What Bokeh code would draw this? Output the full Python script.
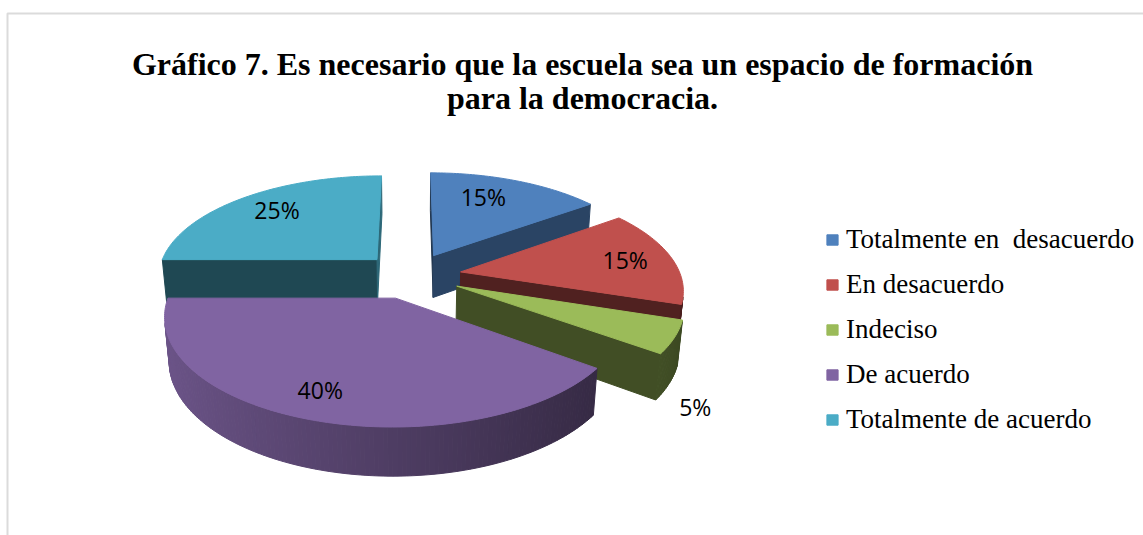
import numpy as np
from bokeh.plotting import figure
from bokeh.models import Range1d, Legend, LegendItem, Label, ColumnDataSource, BoxAnnotation
from bokeh.core.properties import value
from bokeh.embed import file_html
from bokeh.resources import INLINE

# ---------------- data ----------------
categories = ["Totalmente en  desacuerdo", "En desacuerdo", "Indeciso",
              "De acuerdo", "Totalmente de acuerdo"]
percentages = [15, 15, 5, 40, 25]
pct_labels = ["15%", "15%", "5%", "40%", "25%"]
colors = ["#4F81BD", "#C0504D", "#9BBB59", "#8064A2", "#4BACC6"]
title_lines = ["Gráfico 7. Es necesario que la escuela sea un espacio de formación",
               "para la democracia."]

# ---------------- layout / style ----------------
W, H = 1143, 535
CXd, CYd = 411.0, 260.0          # top-face centre (screen/data units)
R = 220.0                        # pie radius
EXPL = 50.0                      # explosion distance
DEPTH = 49.0                     # pie thickness
SINPHI = 0.46                    # elevation of view
DIST = 1266.0                    # perspective distance
label_frac = [0.73, 0.78, 1.12, 0.80, 0.76]
label_shift = [-5.5, 0.0, 0.0, 2.7, 2.0]
label_drop = [0.0, 0.0, 1.4, 0.0, 0.0]

COSPHI = np.sqrt(1 - SINPHI ** 2)
CAM = np.array([0.0, -DIST * COSPHI, DIST * SINPHI])


def proj(P):
    X, Y, Z = P
    d = DIST + Y * COSPHI - Z * SINPHI
    s = DIST / d
    return CXd + X * s, CYd + (Y * SINPHI + Z * COSPHI) * s


def unit(t):
    return np.array([np.sin(t), np.cos(t), 0.0])


def shade(hexcol, f):
    r, g, b = (int(hexcol[i:i + 2], 16) for i in (1, 3, 5))
    return "#%02x%02x%02x" % (int(min(255, r * f)), int(min(255, g * f)), int(min(255, b * f)))


def poly(points):
    xy = [proj(q) for q in points]
    return [a for a, _ in xy], [b for _, b in xy]


p = figure(width=W, height=H, x_range=Range1d(0, W), y_range=Range1d(0, H),
           x_axis_type=None, y_axis_type=None, output_backend="svg",
           toolbar_location=None, min_border=0, outline_line_color=None)
p.background_fill_color = "white"
p.border_fill_color = "white"

# chart-area frame (only left and top edges visible in the window)
p.add_layout(BoxAnnotation(left=7, right=W + 20, bottom=-20, top=H - 13,
                           fill_alpha=0, line_color="#898989", line_width=2))

total = float(sum(percentages))
cum = np.concatenate([[0.0], np.cumsum(percentages)]) / total * 2 * np.pi
down = np.array([0.0, 0.0, -DEPTH])

order = sorted(range(len(percentages)), key=lambda i: -np.cos((cum[i] + cum[i + 1]) / 2))
top_renderers = {}

for i in order:
    ts, te = cum[i], cum[i + 1]
    tm = (ts + te) / 2
    O = EXPL * unit(tm)
    n = max(3, int(np.degrees(te - ts)))
    thetas = np.linspace(ts, te, n + 1)
    arc = [O + R * unit(t) for t in thetas]

    side_xs, side_ys, side_c = [], [], []
    # radial faces
    for t, sgn in ((ts, -1), (te, 1)):
        nrm = sgn * np.array([np.cos(t), -np.sin(t), 0.0])
        A = O + R * unit(t)
        if np.dot(nrm, CAM - O) > 0:
            xs, ys = poly([O, A, A + down, O + down])
            side_xs.append(xs); side_ys.append(ys)
            side_c.append(shade(colors[i], 0.42 + 0.19 * max(nrm[0], 0)))
    # curved outer face, in strips
    for k in range(len(thetas) - 1):
        ta, tb = thetas[k], thetas[k + 1]
        tmid = (ta + tb) / 2
        Pm = O + R * unit(tmid)
        if np.dot(unit(tmid), CAM - Pm) > 0:
            A, B = arc[k], arc[k + 1]
            xs, ys = poly([A, B, B + down, A + down])
            side_xs.append(xs); side_ys.append(ys)
            side_c.append(shade(colors[i], 0.615 - 0.235 * np.sin(tmid)))
    if side_xs:
        src = ColumnDataSource(dict(xs=side_xs, ys=side_ys, c=side_c))
        p.patches("xs", "ys", source=src, fill_color="c", line_color="c", line_width=1)

    txs, tys = poly([O] + arc)
    top_renderers[i] = p.patches([txs], [tys], fill_color=colors[i],
                                 line_color=colors[i], line_width=1)

# percentage labels
lx, ly = [], []
for i in range(len(percentages)):
    tm = (cum[i] + cum[i + 1]) / 2
    O = EXPL * unit(tm)
    P = O + label_frac[i] * R * unit(tm + np.radians(label_shift[i])) + label_drop[i] * down
    x, y = proj(P)
    lx.append(x); ly.append(y)
p.text(x=lx, y=ly, text=pct_labels, text_align="center", text_baseline="middle",
       text_font=value("Open Sans"), text_font_size="23px", text_color="#000000")

# title
for j, line in enumerate(title_lines):
    p.add_layout(Label(x=582, y=H - 63 - 34 * j, text=line, text_align="center",
                       text_baseline="alphabetic", text_font="Liberation Serif",
                       text_font_style="bold", text_font_size="32px", text_color="#000000"))

# legend
items = [LegendItem(label=categories[i], renderers=[top_renderers[i]]) for i in range(len(categories))]
legend = Legend(items=items, location=(825, 100.5), orientation="vertical",
                label_text_font="Liberation Serif", label_text_font_size="27px",
                label_text_color="#000000", glyph_width=14, glyph_height=13,
                label_standoff=7, spacing=14, padding=0, margin=0, label_height=30,
                border_line_alpha=0, background_fill_alpha=0)
p.add_layout(legend)

open("out.html", "w").write(file_html(p, INLINE))
